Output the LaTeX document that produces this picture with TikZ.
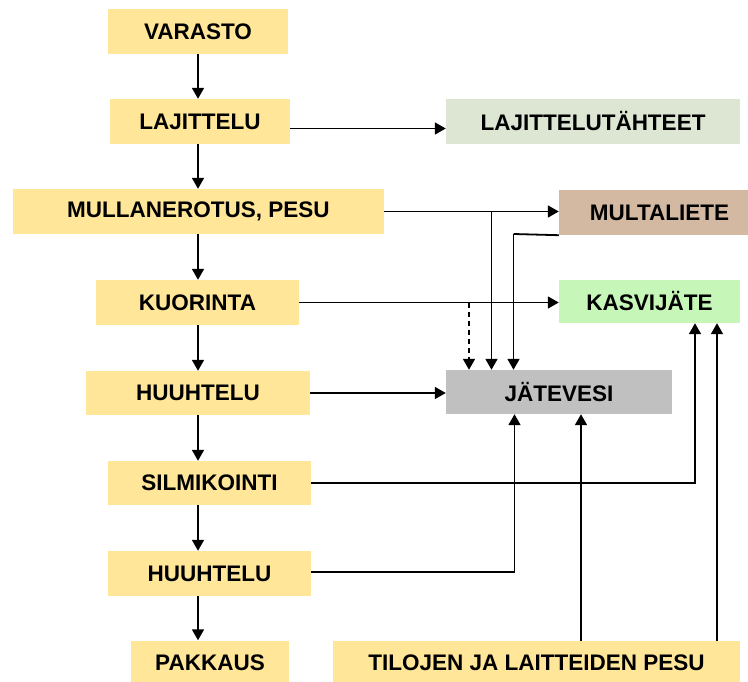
\documentclass[tikz,border=0pt]{standalone}
\usepackage{fontspec}
\setmainfont{Liberation Sans}
\usepackage{tikz}
\usetikzlibrary{positioning, calc, arrows.meta}

\definecolor{keltainen}{HTML}{FFE699}
\definecolor{harmaanvihrea}{HTML}{DCE6D2}
\definecolor{ruskea}{HTML}{D3B9A2}
\definecolor{vihrea}{HTML}{C6F7B8}
\definecolor{harmaa}{HTML}{C0C0C0}

\begin{document}
\begin{tikzpicture}[x=1pt, y=-1pt,
    box/.style = {rectangle, fill=keltainen, minimum height=45pt, inner sep=0pt,
                  font=\fontsize{22.5}{26}\selectfont\bfseries},
    arr/.style = {line width=1.8pt, -{Triangle[length=11pt,width=12pt]}},
    viiva/.style = {line width=1.8pt}]
                    \useasboundingbox (0,0) rectangle (748,682);
                    % prosessin vaiheet
                    \node[box, minimum width=180pt] (varasto) at (198,31.5) {VARASTO};
                    \node[box, minimum width=180pt] (lajittelu) at (200,121.5) {LAJITTELU};
                    \node[box, minimum width=371pt] (mullan) at (198.5,211.5) {MULLANEROTUS, PESU};
                    \node[box, minimum width=203pt] (kuorinta) at (197.5,302.5) {KUORINTA};
                    \node[box, minimum width=224pt, minimum height=44pt] (huuhtelu1) at (198,393) {HUUHTELU};
                    \node[box, minimum width=203pt, minimum height=44pt] (silmikointi) at (209.5,483) {SILMIKOINTI};
                    \node[box, minimum width=203pt] (huuhtelu2) at (209.5,573.5) {HUUHTELU};
                    \node[box, minimum width=158pt] (pakkaus) at (210,663) {PAKKAUS};
                    \node[box, minimum width=407pt] (tilojen) at (536.5,663) {TILOJEN JA LAITTEIDEN PESU};
                    % jakeet
                    \node[box, fill=harmaanvihrea, minimum width=294pt] (tahteet) at (593,121.5) {LAJITTELUTÄHTEET};
                    \node[box, fill=ruskea, minimum width=201pt] (multaliete) at (659.5,212.5) {MULTALIETE};
                    \node[box, fill=vihrea, minimum width=181pt, minimum height=43pt] (kasvijate) at (649.5,301.5) {KASVIJÄTE};
                    \node[box, fill=harmaa, minimum width=226pt, minimum height=44pt] (jatevesi) at (559,392) {JÄTEVESI};

                    % pääketju
                    \draw[arr] (varasto.south) -- (varasto.south |- lajittelu.north);
                    \draw[arr] (varasto.south |- lajittelu.south) -- (varasto.south |- mullan.north);
                    \draw[arr] (varasto.south |- mullan.south) -- (varasto.south |- kuorinta.north);
                    \draw[arr] (varasto.south |- kuorinta.south) -- (varasto.south |- huuhtelu1.north);
                    \draw[arr] (varasto.south |- huuhtelu1.south) -- (varasto.south |- silmikointi.north);
                    \draw[arr] (varasto.south |- silmikointi.south) -- (varasto.south |- huuhtelu2.north);
                    \draw[arr] (varasto.south |- huuhtelu2.south) -- (varasto.south |- pakkaus.north);

                    % sivuvirrat
                    \draw[arr] ([yshift=-7pt]lajittelu.east) -- ([yshift=-7pt]tahteet.west);
                    \draw[arr] (mullan.east) -- (mullan.east -| multaliete.west);
                    \coordinate (haara1) at (491.5,211.5);
                    \draw[arr] (haara1) -- (haara1 |- jatevesi.north);
                    \coordinate (haara2) at (513.5,234);
                    \draw[viiva] (multaliete.south west) -- (haara2);
                    \draw[arr] (haara2) -- (haara2 |- jatevesi.north);
                    \draw[arr] (kuorinta.east) -- (kuorinta.east -| kasvijate.west);
                    \coordinate (haara3) at (469,302.5);
                    \draw[arr, dashed, dash pattern=on 5pt off 4pt] (haara3) -- (haara3 |- jatevesi.north);
                    \draw[arr] (huuhtelu1.east) -- (huuhtelu1.east -| jatevesi.west);
                    \coordinate (kulma1) at (695,483);
                    \draw[arr] (silmikointi.east) -- (kulma1) -- (kulma1 |- kasvijate.south);
                    \coordinate (kulma2) at (514.5,572);
                    \draw[arr] (huuhtelu2.east |- kulma2) -- (kulma2) -- (kulma2 |- jatevesi.south);
                    \coordinate (pesu1) at (581,640.5);
                    \draw[arr] (pesu1) -- (pesu1 |- jatevesi.south);
                    \coordinate (pesu2) at (717,640.5);
                    \draw[arr] (pesu2) -- (pesu2 |- kasvijate.south);
                \end{tikzpicture}
\end{document}
